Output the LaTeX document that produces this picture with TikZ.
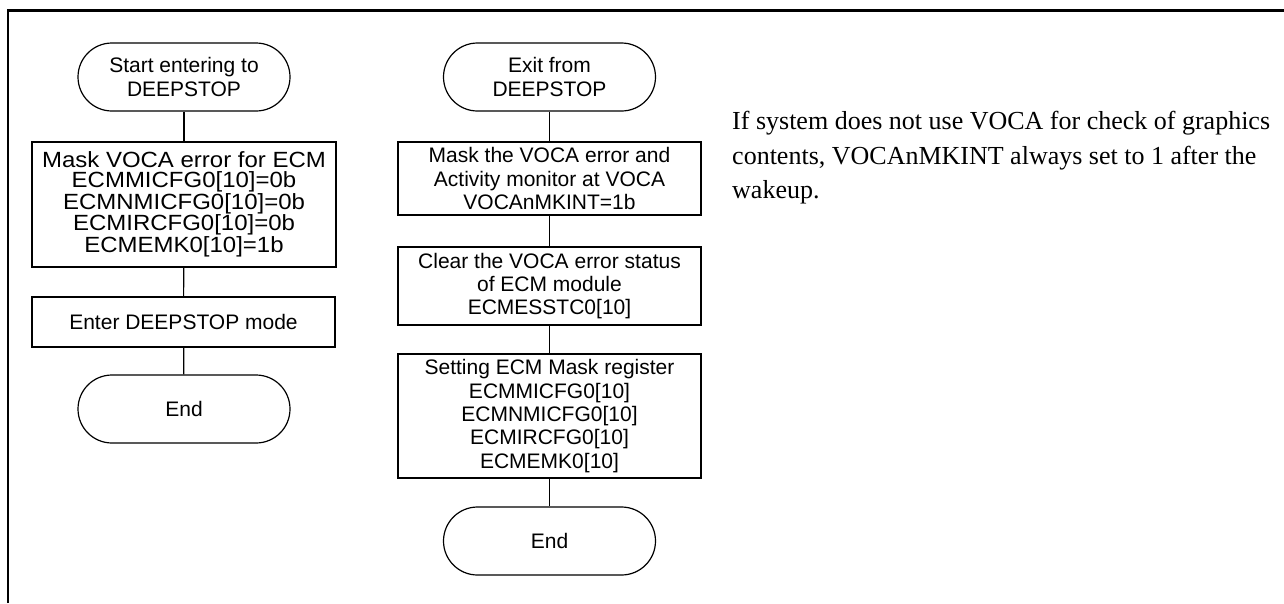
\documentclass[tikz,border=0pt]{standalone}
\usepackage{fontspec}
\setmainfont{Liberation Sans}
\newfontfamily\widefont[FakeStretch=1.09]{Liberation Sans}
\newfontfamily\notefont{Liberation Serif}
\usetikzlibrary{positioning}
\tikzset{
  term/.style={draw,line width=1.2pt,rounded corners=34pt,minimum width=212pt,minimum height=68pt,align=center,font=\fontsize{21}{23.4}\selectfont,inner sep=0pt},
  proc/.style={draw,line width=1.2pt,minimum width=303pt,align=center,font=\fontsize{21}{23.4}\selectfont,inner sep=0pt},
  link/.style={line width=1.2pt},
  note/.style={anchor=base west,inner sep=0pt,font=\notefont\fontsize{26}{34}\selectfont}
}
\begin{document}
\begin{tikzpicture}[x=1pt,y=-1pt]
            \useasboundingbox (0,0) rectangle (1284,603);
            \draw[line width=2.6pt] (8,603) -- (8,10.5) -- (1284,10.5);
            % entering DEEPSTOP
            \node[term] (start) at (184,77) {Start entering to\\DEEPSTOP};
            \node[proc,minimum width=304pt,minimum height=125pt,font=\widefont\fontsize{22}{20}\selectfont] (maskecm) at (184,204.5) {Mask VOCA error for ECM\\ECMMICFG0[10]=0b\\ECMNMICFG0[10]=0b\\ECMIRCFG0[10]=0b\\ECMEMK0[10]=1b};
            \node[proc,minimum height=50pt] (enter) at (183.5,322) {Enter DEEPSTOP mode};
            \node[term] (endA) at (184,409) {End};
            \draw[link] (start) -- (maskecm);
            \draw[link] (maskecm) -- (enter);
            \draw[link] (enter) -- (endA);
            % exit from DEEPSTOP
            \node[term] (exit) at (549.5,77) {Exit from\\DEEPSTOP};
            \node[proc,minimum height=73pt] (maskvoca) at (549.5,178.5) {Mask the VOCA error and\\Activity monitor at VOCA\\VOCAnMKINT=1b};
            \node[proc,minimum height=78pt] (clear) at (549.5,286) {Clear the VOCA error status\\of ECM module\\ECMESSTC0[10]};
            \node[proc,minimum height=124pt] (setmask) at (549.5,416) {Setting ECM Mask register\\ECMMICFG0[10]\\ECMNMICFG0[10]\\ECMIRCFG0[10]\\ECMEMK0[10]};
            \node[term] (endB) at (549.5,541) {End};
            \draw[link] (exit) -- (maskvoca);
            \draw[link] (maskvoca) -- (clear);
            \draw[link] (clear) -- (setmask);
            \draw[link] (setmask) -- (endB);
            % remark
            \node[note] (note1) at (732,129) {If system does not use VOCA for check of graphics};
            \node[note] (note2) at (732,164) {contents, VOCAnMKINT always set to 1 after the};
            \node[note] (note3) at (732,198) {wakeup.};
\end{tikzpicture}
\end{document}
